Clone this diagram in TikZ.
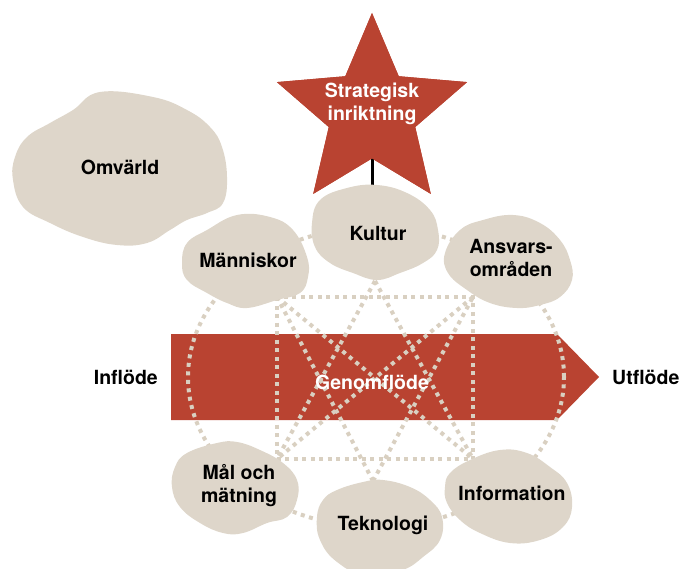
\documentclass[tikz,border=0pt]{standalone}
\usepackage{fontspec}
\setmainfont{TeX Gyre Heros}
\usetikzlibrary{shapes.geometric}

\definecolor{flowred}{HTML}{B94331}
\definecolor{sand}{HTML}{DED6CA}
\definecolor{dotsand}{HTML}{D9D0C1}

\tikzset{
  lbl/.style={font=\fontsize{19.5}{23}\selectfont\bfseries, align=center, text=black, inner sep=0pt},
  wlbl/.style={lbl, text=white},
  blob/.style={fill=sand, draw=none},
  dots/.style={draw=dotsand, line width=4pt, dash pattern=on 4pt off 4.5pt},
}

\begin{document}
\begin{tikzpicture}[x=1pt, y=-1pt]
\useasboundingbox (0,0) rectangle (679,569);
\coordinate (rtl) at (277,297);
\coordinate (rtr) at (473,297);
\coordinate (rbl) at (277,459);
\coordinate (rbr) at (473,459);
\coordinate (kul) at (375,281);
\coordinate (tek) at (373,481);
\coordinate (kultop) at (372,195);
% flow arrow
\fill[flowred] (171,334) -- (557,334) -- (599,377) -- (557,420) -- (171,420) -- cycle;
% dotted links
\draw[dots] (376,377) ellipse [x radius=188pt, y radius=150pt];
\draw[dots] (rtl) rectangle (rbr);
\draw[dots] (kul) -- (rbl);
\draw[dots] (kul) -- (rbr);
\draw[dots] (tek) -- (rtl);
\draw[dots] (tek) -- (rtr);
\draw[dots] (rtl) -- (rbr);
\draw[dots] (rtr) -- (rbl);
% star and its pole
\node[star, star points=5, star point ratio=2.2, fill=flowred, minimum size=200pt, inner sep=0pt, outer sep=0pt] (stjarna) at (372,113) {};
\draw[line width=3pt] (stjarna.center) -- (kultop);
\node[star, star points=5, star point ratio=2.2, fill=flowred, minimum size=200pt, inner sep=0pt, outer sep=0pt] at (stjarna) {};
% blobs
\fill[blob] plot[smooth cycle, tension=0.7] coordinates {(100,92) (153,97) (187,110) (210,127) (222,147) (227,177) (223,203) (207,213) (187,220) (170,230) (147,243) (117,245) (83,237) (50,223) (23,207) (13,180) (15,157) (27,137) (50,123) (73,110)};
\fill[blob] plot[smooth cycle, tension=0.7] coordinates {(237,215) (270,217) (293,230) (307,257) (308,277) (300,293) (277,300) (247,308) (227,303) (207,293) (187,280) (182,263) (187,243) (207,230)};
\fill[blob] plot[smooth cycle, tension=0.7] coordinates {(320,200) (347,188) (377,185) (407,193) (430,210) (438,230) (437,250) (423,263) (400,273) (377,280) (353,273) (330,263) (315,247) (312,223)};
\fill[blob] plot[smooth cycle, tension=0.7] coordinates {(460,230) (483,220) (513,215) (540,223) (560,240) (570,260) (572,280) (560,297) (540,305) (517,308) (490,303) (467,290) (448,273) (445,253)};
\fill[blob] plot[smooth cycle, tension=0.7] coordinates {(187,453) (217,443) (237,442) (260,450) (283,463) (297,480) (297,500) (287,517) (267,523) (243,533) (223,533) (200,523) (180,507) (172,487) (175,467)};
\fill[blob] plot[smooth cycle, tension=0.7] coordinates {(337,490) (363,482) (383,480) (410,487) (430,500) (442,517) (440,540) (423,557) (403,570) (370,578) (337,562) (320,540) (317,517) (323,500)};
\fill[blob] plot[smooth cycle, tension=0.7] coordinates {(450,473) (470,460) (500,450) (527,453) (550,467) (567,483) (572,507) (563,527) (540,540) (510,543) (480,533) (460,520) (447,503) (445,487)};
% labels
\node[wlbl] (strat) at (372,104) {Strategisk\\inriktning};
\node[wlbl] (genom) at (372,382) {Genomflöde};
\node[lbl] (omv) at (120,167) {Omvärld};
\node[lbl] (mann) at (248,260) {Människor};
\node[lbl] (kultur) at (378,233) {Kultur};
\node[lbl] (ansvar) at (511,258) {Ansvars-\\områden};
\node[lbl] (mal) at (239,486) {Mål och\\mätning};
\node[lbl] (tekno) at (383,525) {Teknologi};
\node[lbl] (info) at (512,493) {Information};
\node[lbl, anchor=east] (in) at (158,377) {Inflöde};
\node[lbl, anchor=west] (ut) at (612,377) {Utflöde};
\end{tikzpicture}
\end{document}
